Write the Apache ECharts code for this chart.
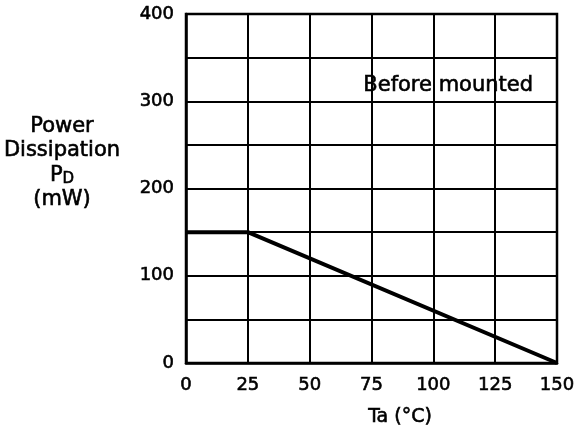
<!DOCTYPE html>
<html><head><meta charset="utf-8">
<script src="https://cdn.jsdelivr.net/npm/echarts@6/dist/echarts.min.js"></script>
<style>html,body{margin:0;padding:0;background:#fff}#c{width:584px;height:436px}</style>
</head><body><div id="c"></div>
<script>
const temps = [0, 25, 150];
const power = [150, 150, 0];
const xTicks = [0, 25, 50, 75, 100, 125, 150];
const yTicks = [0, 100, 200, 300, 400];
const noteText = 'Before mounted';
const notePos = [106, 318];

const chart = echarts.init(document.getElementById('c'), null, {renderer: 'canvas'});
const F = 'DejaVu Sans';
const TB = {textBorderColor: '#000', textBorderWidth: 0.6};
chart.setOption({
  backgroundColor: '#fff',
  animation: false,
  grid: {left: 186, right: 27, top: 14, bottom: 73, show: true, borderColor: '#000', borderWidth: 2.5},
  xAxis: {
    type: 'value', min: 0, max: 150, interval: 25,
    axisLine: {show: true, lineStyle: {color: '#000', width: 2.5}},
    axisTick: {show: false},
    axisLabel: Object.assign({color: '#000', fontFamily: F, fontSize: 18, margin: 13,
      formatter: v => xTicks.includes(v) ? String(v) : ''}, TB),
    splitLine: {show: true, lineStyle: {color: '#000', width: 2}}
  },
  yAxis: {
    type: 'value', min: 0, max: 400, interval: 50,
    axisLine: {show: true, lineStyle: {color: '#000', width: 2.5}},
    axisTick: {show: false},
    axisLabel: Object.assign({color: '#000', fontFamily: F, fontSize: 18, margin: 12, padding: [5, 0, 0, 0],
      formatter: v => yTicks.includes(v) ? String(v) : ''}, TB),
    splitLine: {show: true, lineStyle: {color: '#000', width: 2}}
  },
  graphic: [
    {type: 'text', x: 62, y: 114, style: {
      text: 'Power\nDissipation\n{n|P}{s|D}\n(mW)',
      textAlign: 'center', textVerticalAlign: 'top', fill: '#000', fontFamily: F, fontSize: 21, lineHeight: 24.5,
      stroke: '#000', lineWidth: 0.6,
      rich: {n: {fontSize: 21, fontFamily: F, fill: '#000', lineHeight: 24.5, stroke: '#000', lineWidth: 0.6},
             s: {fontSize: 15, fontFamily: F, fill: '#000', padding: [7, 0, 0, 0], lineHeight: 24.5, stroke: '#000', lineWidth: 0.6}}
    }},
    {type: 'text', x: 400, y: 417, style: {
      text: 'Ta (°C)', textAlign: 'center', textVerticalAlign: 'middle',
      fill: '#000', fontFamily: F, fontSize: 19, stroke: '#000', lineWidth: 0.6
    }}
  ],
  series: [{
    type: 'line', data: temps.map((t, i) => [t, power[i]]),
    symbol: 'none', lineStyle: {color: '#000', width: 4},
    markPoint: {
      symbol: 'rect', symbolSize: 0,
      data: [{coord: notePos}],
      label: Object.assign({show: true, formatter: noteText, color: '#000', fontFamily: F, fontSize: 21, position: 'inside'}, TB)
    }
  }]
});
</script></body></html>
